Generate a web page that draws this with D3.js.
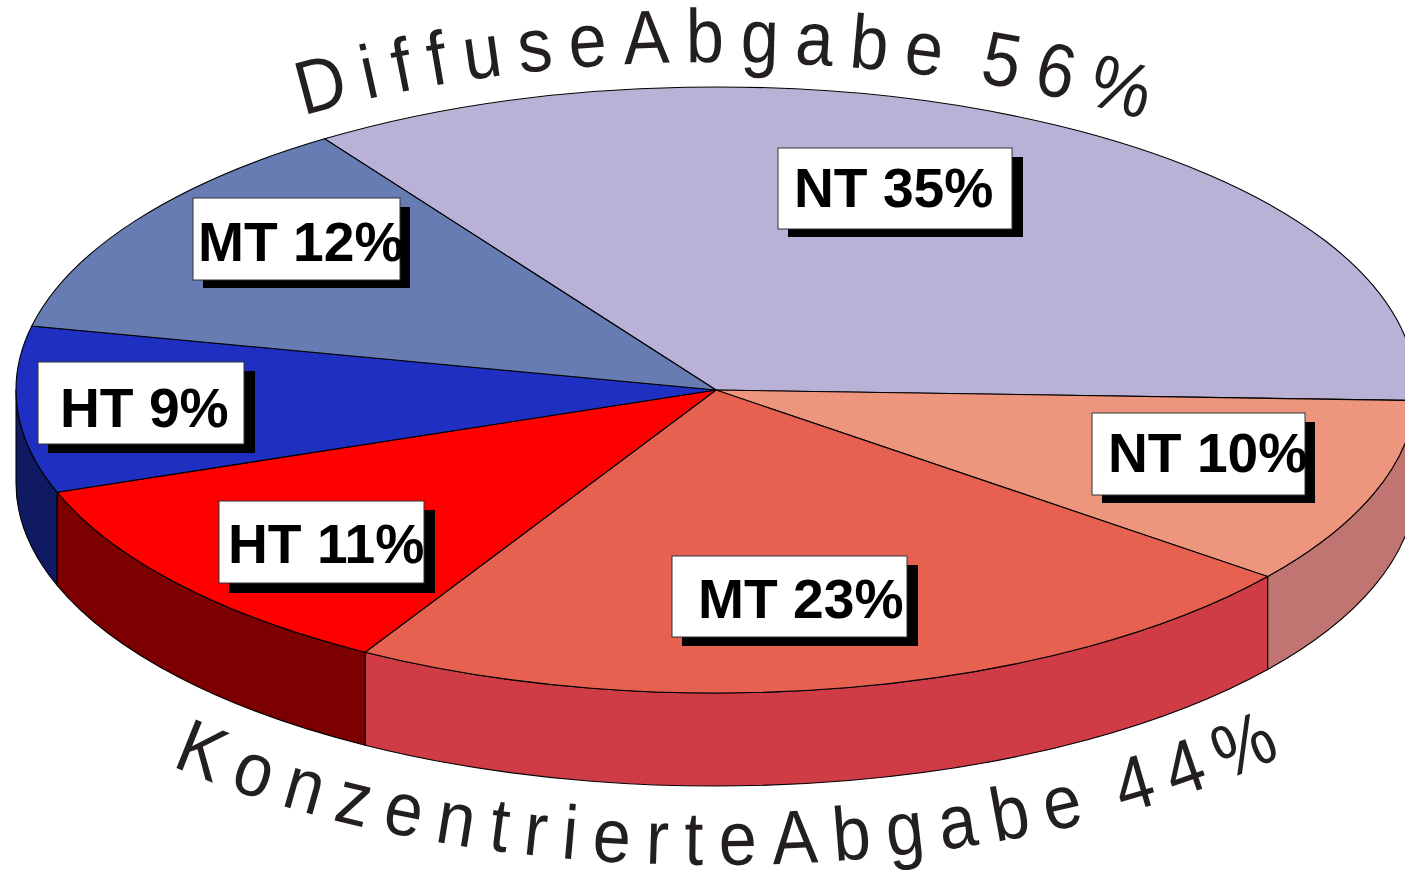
<!DOCTYPE html>
<html><head><meta charset="utf-8">
<script src="https://cdn.jsdelivr.net/npm/d3@7/dist/d3.min.js"></script>
<style>html,body{margin:0;padding:0;background:#fff;overflow:hidden}svg{display:block}</style>
</head><body><svg id="c" width="1405" height="870"></svg>
<script>
const categories=["NT","NT","MT","HT","HT","MT"];
const labelValues=[35,10,23,11,9,12];
const sliceValues=[35,10,22.8,11.17,8.86,12.17];
const topColors=["#b9b2d6","#ee957e","#e66150","#ff0000","#1f2fc1","#667cb3"];
const sideColors=["#c07572","#c07572","#d03c45","#7d0000","#0f1a63","#0f1a63"];
const arcTitles=["DiffuseAbgabe 56%","KonzentrierteAbgabe 44%"];

const W=1405,H=870,cx=716,cy=390,rx=700,ry=303,depth=93;
const startDeg=-34;
// label box layout: x0,y0,x1,y1, text start x, baseline y, shadow right, shadow bottom
const boxes=[
 [778,148,1012,229,794,207,1023,237],
 [1092,413,1305,495,1108,472,1315,503],
 [672,556,907,637,698,618,918,646],
 [219,501,424,583,228,563,435,593],
 [38,362,244,444,60,427,255,453],
 [193,198,400,280,198,261,410,288]];

const svg=d3.select("#c");
const pie=d3.pie().sort(null).value(d=>d)
  .startAngle(startDeg*Math.PI/180).endAngle((startDeg+360)*Math.PI/180);
const slices=pie(sliceValues);
const arc=d3.arc().innerRadius(0).outerRadius(rx);
const px=a=>cx+rx*Math.sin(a), py=a=>cy-ry*Math.cos(a);

// side walls
const sideLo=Math.PI/2, sideHi=3*Math.PI/2;
const sideG=svg.append("g");
slices.forEach((s,i)=>{
  const a0=Math.max(s.startAngle,sideLo), a1=Math.min(s.endAngle,sideHi);
  if(a1<=a0) return;
  const d=`M${px(a0)},${py(a0)}A${rx},${ry} 0 0 1 ${px(a1)},${py(a1)}`+
          `L${px(a1)},${py(a1)+depth}A${rx},${ry} 0 0 0 ${px(a0)},${py(a0)+depth}Z`;
  sideG.append("path").attr("d",d).attr("fill",sideColors[i]).attr("stroke","#000").attr("stroke-width",1.1);
});

// top faces
const topG=svg.append("g").attr("transform",`translate(${cx},${cy}) scale(1,${ry/rx})`);
topG.selectAll("path").data(slices).join("path")
  .attr("d",arc).attr("fill",(d,i)=>topColors[i])
  .attr("stroke","#000").attr("stroke-width",1.1).attr("vector-effect","non-scaling-stroke");

// labels
const labelG=svg.append("g");
slices.forEach((s,i)=>{
  const b=boxes[i];
  labelG.append("rect").attr("x",b[0]+10).attr("y",b[1]+9).attr("width",b[6]-b[0]-10).attr("height",b[7]-b[1]-9).attr("fill","#000");
  labelG.append("rect").attr("x",b[0]).attr("y",b[1]).attr("width",b[2]-b[0]).attr("height",b[3]-b[1])
    .attr("fill","#fff").attr("stroke","#333").attr("stroke-width",1);
  labelG.append("text").attr("x",b[4]).attr("y",b[5])
    .attr("font-family","Liberation Sans").attr("font-weight",700).attr("font-size",55.2).attr("fill","#000")
    .text(`${categories[i]} ${labelValues[i]}%`);
});

// curved titles: each glyph placed on an elliptical baseline
function curved(text,d,x0len,x1len,fs,sx){
  const p=svg.append("path").attr("d",d).attr("fill","none").node();
  const total=p.getTotalLength();
  const g=svg.append("g").attr("font-family","Liberation Sans").attr("font-size",fs).attr("fill","#231f20");
  const chars=Array.from(text);
  const nodes=chars.map(c=>g.append("text").attr("text-anchor","middle").text(c===" "?"\u00a0":c));
  const adv=nodes.map((n,i)=>n.node().getComputedTextLength()*sx*(chars[i]===" "?0.35:1));
  const span=total*(x1len-x0len);
  const gap=(span-d3.sum(adv))/(chars.length-1);
  let s=total*x0len;
  nodes.forEach((n,i)=>{
    const m=s+adv[i]/2, a=p.getPointAtLength(m-1), b=p.getPointAtLength(m+1), c=p.getPointAtLength(m);
    const ang=Math.atan2(b.y-a.y,b.x-a.x)*180/Math.PI;
    n.attr("transform",`translate(${c.x},${c.y}) rotate(${ang}) scale(${sx},1)`);
    s+=adv[i]+gap;
  });
  d3.select(p).remove();
}
const topPath=`M${716-730},${369}A730,307 0 0 1 ${716+730},${369}`;
curved(arcTitles[0],topPath,0.254,0.755,76,0.9);
const botPath=`M${716-800},${494}A800,371 0 0 0 ${716+800},${494}`;
curved(arcTitles[1],botPath,0.207,0.805,76,0.9);
</script></body></html>
